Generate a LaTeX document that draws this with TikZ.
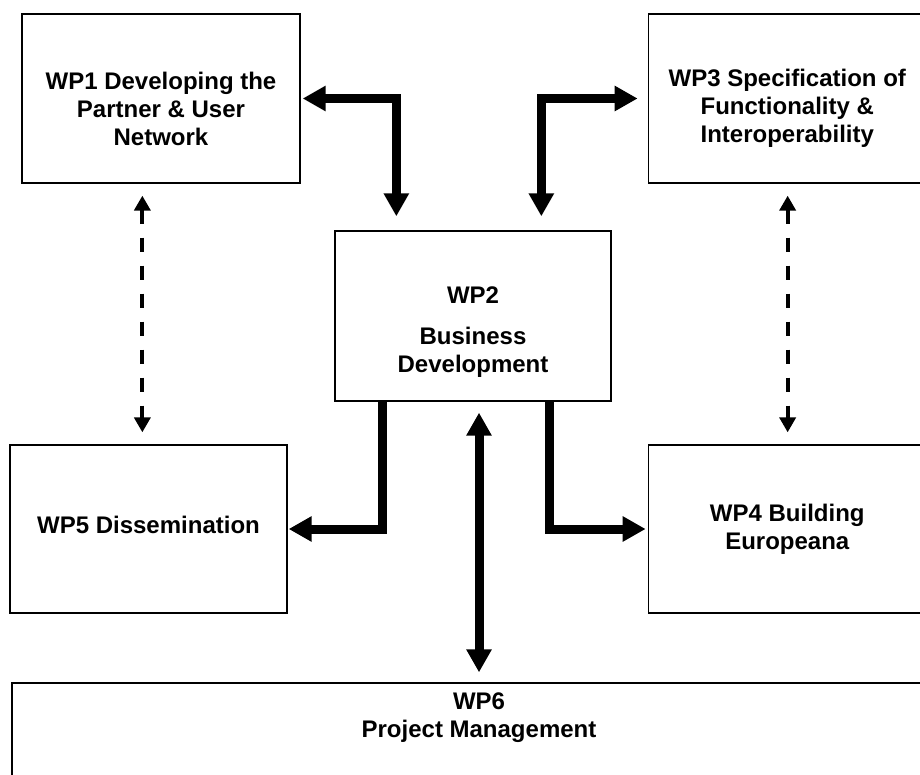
\documentclass[tikz,border=0pt]{standalone}
\usepackage{fontspec}
\setmainfont{Liberation Sans}
\usetikzlibrary{arrows.meta}
\usetikzlibrary{positioning}
\tikzstyle{WPBox}      = [draw=black, line width=1.3pt, fill=white, inner sep=0pt]
\tikzstyle{SideBox}    = [WPBox, minimum width=278pt, minimum height=169pt]
\tikzstyle{WPText}     = [font=\bfseries\fontsize{24}{28}\selectfont, align=center, inner sep=0pt]
\tikzstyle{FatLink}    = [line width=9pt, line join=miter, draw=black]
\tikzstyle{DashedLink} = [line width=4pt, draw=black, dash pattern=on 14pt off 14pt]
\tikzset{FatTip/.tip={Triangle[length=23pt, width=24pt]},
         DashTip/.tip={Triangle[length=15pt, width=16pt]}}

\begin{document}
\begin{tikzpicture}[x=1pt, y=-1pt]

\clip (0,0) rectangle (920,775);

%% ------------------------------------------------------------ [ Boxes ]
\node (wp1) [SideBox] at (161,98.5) {};
\node (wp3) [SideBox, right = 347pt of wp1] {};

\node (wp2) [WPBox, minimum width=276pt, minimum height=170pt] at (473,316) {};

\node (wp5) [SideBox, minimum width=277pt, minimum height=168pt] at (148.5,529) {};
\node (wp4) [SideBox, minimum height=168pt, right = 360pt of wp5] {};

\node (wp6) [WPBox, minimum width=934pt, minimum height=107pt] at (479,736.5) {};

%% ------------------------------------------------------------ [ Labels ]
\node (wp1text) [WPText] at ([yshift=-10pt]wp1.center) {WP1 Developing the\\Partner \& User\\Network};
\node (wp3text) [WPText] at ([yshift=-10pt]wp3.center) {WP3 Specification of\\Functionality \&\\Interoperability};
\node (wp2text) [WPText] at ([yshift=-16pt]wp2.center) {WP2\\[13pt]Business\\Development};
\node (wp5text) [WPText] at ([yshift=4pt]wp5.center) {WP5 Dissemination};
\node (wp4text) [WPText] at (wp4.center) {WP4 Building\\Europeana};
\node (wp6text) [WPText] at (479,717.5) {WP6\\Project Management};

%% ------------------------------------------------------------ [ Links ]
\draw[FatLink, {FatTip}-{FatTip}, shorten <=2pt, shorten >=14pt]
  (wp1.east) -| ([xshift=62pt]wp2.north west);
\draw[FatLink, {FatTip}-{FatTip}, shorten <=10pt, shorten >=14pt]
  (wp3.west) -| ([xshift=207pt]wp2.north west);

\draw[FatLink, -{FatTip}, shorten >=1pt]
  ([xshift=48pt]wp2.south west) |- (wp5.east);
\draw[FatLink, -{FatTip}, shorten >=2pt]
  ([xshift=215pt]wp2.south west) |- (wp4.west);

\coordinate (mgmt) at ([xshift=6pt]wp2.south);
\draw[FatLink, {FatTip}-{FatTip}, shorten <=11pt, shorten >=10pt]
  (mgmt) -- (mgmt |- wp6.north);

\coordinate (left) at ([xshift=121pt]wp1.south west);
\coordinate (right) at ([xshift=140pt]wp3.south west);
\draw[DashedLink, {DashTip}-{DashTip}, shorten <=12pt, shorten >=12pt]
  (left) -- (left |- wp5.north);
\draw[DashedLink, {DashTip}-{DashTip}, shorten <=12pt, shorten >=12pt]
  (right) -- (right |- wp4.north);

\end{tikzpicture}
\end{document}
